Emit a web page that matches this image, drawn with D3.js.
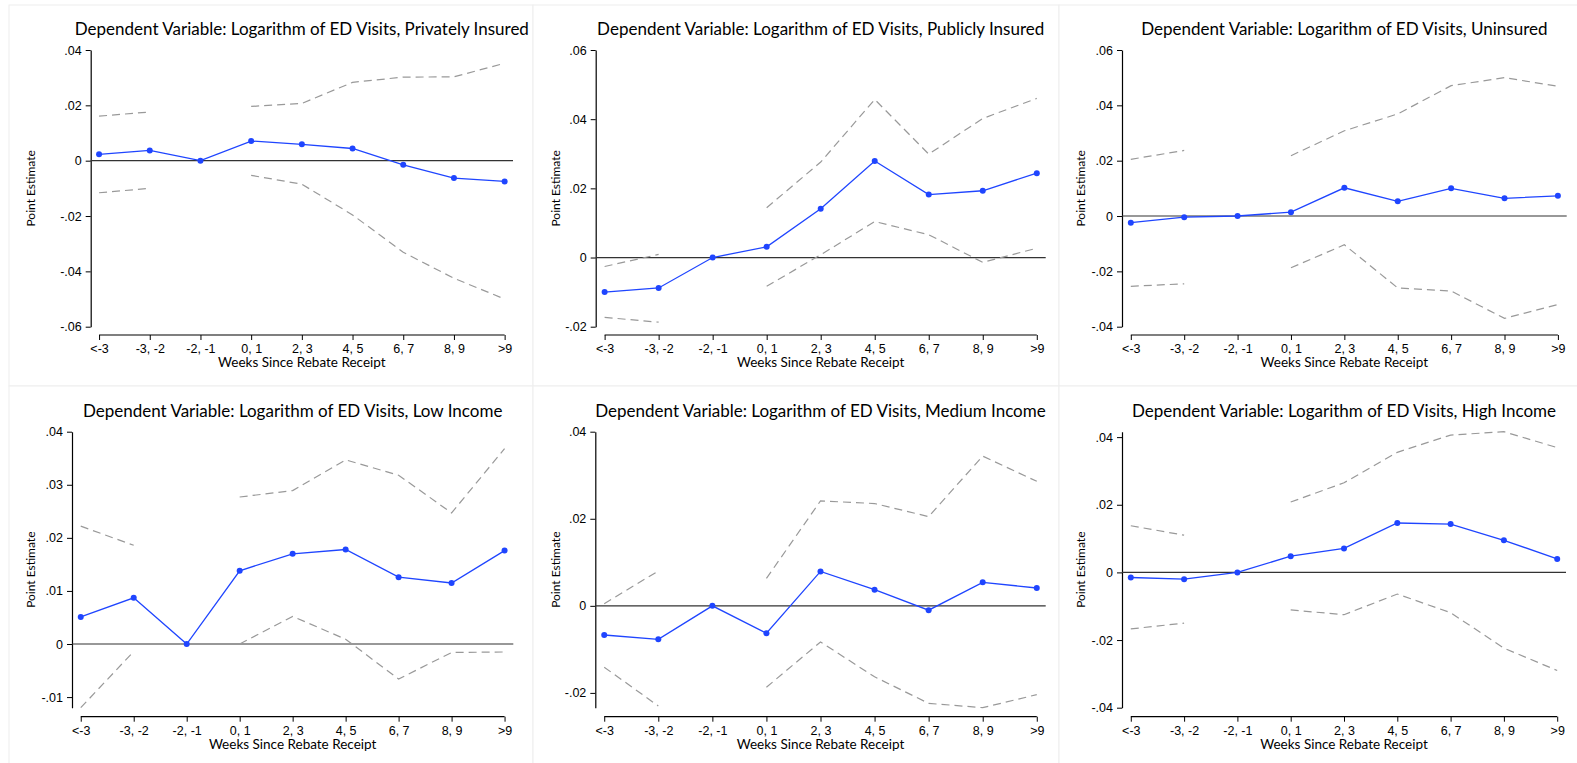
<!DOCTYPE html>
<html>
<head>
<meta charset="utf-8">
<script src="https://cdn.jsdelivr.net/npm/d3@7"></script>
<style>
  body { margin: 0; background: #fff; }
  svg { display: block; font-family: Lato, "Open Sans", sans-serif; }
</style>
</head>
<body>
<div id="chart"></div>
<script>
'use strict';

var categories = ["<-3", "-3, -2", "-2, -1", "0, 1", "2, 3", "4, 5", "6, 7", "8, 9", ">9"];

var titles = [
  "Dependent Variable: Logarithm of ED Visits, Privately Insured",
  "Dependent Variable: Logarithm of ED Visits, Publicly Insured",
  "Dependent Variable: Logarithm of ED Visits, Uninsured",
  "Dependent Variable: Logarithm of ED Visits, Low Income",
  "Dependent Variable: Logarithm of ED Visits, Medium Income",
  "Dependent Variable: Logarithm of ED Visits, High Income"
];

// point estimates, one array per panel
var estPrivate = [0.0023, 0.0037, 0, 0.0071, 0.0059, 0.0044, -0.0015, -0.0063, -0.0075];
var estPublic = [-0.0100, -0.0088, 0, 0.0031, 0.0141, 0.0279, 0.0182, 0.0193, 0.0244];
var estUninsured = [-0.0024, -0.0004, 0, 0.0014, 0.0102, 0.0053, 0.0100, 0.0064, 0.0073];
var estLow = [0.0051, 0.0087, 0, 0.0138, 0.0170, 0.0178, 0.0126, 0.0115, 0.0176];
var estMedium = [-0.0067, -0.0077, 0, -0.0063, 0.0079, 0.0037, -0.0010, 0.0054, 0.0041];
var estHigh = [-0.0015, -0.0020, 0, 0.0048, 0.0071, 0.0146, 0.0143, 0.0095, 0.0040];

// confidence bands (null = omitted reference period)
var upPrivate = [0.0161, 0.0176, null, 0.0196, 0.0207, 0.0283, 0.0302, 0.0303, 0.0352];
var loPrivate = [-0.0116, -0.0100, null, -0.0053, -0.0085, -0.0196, -0.0331, -0.0425, -0.0500];
var upPublic = [-0.0026, 0.0009, null, 0.0144, 0.0276, 0.0457, 0.0299, 0.0402, 0.0460];
var loPublic = [-0.0173, -0.0187, null, -0.0083, 0.0008, 0.0104, 0.0066, -0.0014, 0.0027];
var upUninsured = [0.0205, 0.0237, null, 0.0218, 0.0308, 0.0369, 0.0471, 0.0500, 0.0469];
var loUninsured = [-0.0254, -0.0245, null, -0.0187, -0.0104, -0.0260, -0.0271, -0.0370, -0.0320];
var upLow = [0.0222, 0.0186, null, 0.0277, 0.0289, 0.0347, 0.0318, 0.0247, 0.0368];
var loLow = [-0.0120, -0.0014, null, 0.0000, 0.0052, 0.0009, -0.0066, -0.0016, -0.0015];
var upMedium = [0.0005, 0.0080, null, 0.0063, 0.0241, 0.0235, 0.0205, 0.0344, 0.0286];
var loMedium = [-0.0141, -0.0230, null, -0.0187, -0.0083, -0.0163, -0.0224, -0.0234, -0.0204];
var upHigh = [0.0138, 0.0110, null, 0.0208, 0.0265, 0.0355, 0.0406, 0.0416, 0.0369];
var loHigh = [-0.0167, -0.0150, null, -0.0111, -0.0125, -0.0064, -0.0119, -0.0224, -0.0290];

// y tick values per panel
var ticksPrivate = [-0.06, -0.04, -0.02, 0, 0.02, 0.04];
var ticksPublic = [-0.02, 0, 0.02, 0.04, 0.06];
var ticksUninsured = [-0.04, -0.02, 0, 0.02, 0.04, 0.06];
var ticksLow = [-0.01, 0, 0.01, 0.02, 0.03, 0.04];
var ticksMedium = [-0.02, 0, 0.02, 0.04];
var ticksHigh = [-0.04, -0.02, 0, 0.02, 0.04];

var panels = [
  {title: titles[0], est: estPrivate, up: upPrivate, lo: loPrivate, ticks: ticksPrivate},
  {title: titles[1], est: estPublic, up: upPublic, lo: loPublic, ticks: ticksPublic},
  {title: titles[2], est: estUninsured, up: upUninsured, lo: loUninsured, ticks: ticksUninsured},
  {title: titles[3], est: estLow, up: upLow, lo: loLow, ticks: ticksLow},
  {title: titles[4], est: estMedium, up: upMedium, lo: loMedium, ticks: ticksMedium},
  {title: titles[5], est: estHigh, up: upHigh, lo: loHigh, ticks: ticksHigh}
];

var width = 1577, height = 763;

// plot regions (left, right of plot area; row tops/bottoms)
var frames = [
  {x0: 90.7, x1: 513, box: [9, 5, 524, 381], ytitle: 31},
  {x0: 595.7, x1: 1045.7, box: [533, 5, 526, 381], ytitle: 556},
  {x0: 1122, x1: 1566.7, box: [1059, 5, 520, 381], ytitle: 1081},
  {x0: 72, x1: 513.3, box: [9, 386, 524, 380], ytitle: 31},
  {x0: 595.3, x1: 1045.7, box: [533, 386, 526, 380], ytitle: 556},
  {x0: 1122, x1: 1566, box: [1059, 386, 520, 380], ytitle: 1081}
];
var rows = [
  {top: 50, bottom: 326.7, axisY: 335, titleY: 35},
  {top: 431.7, bottom: 707.7, axisY: 716.7, titleY: 417}
];

// stata style labels: .04, -.02, 0
var fmt = function(v) {
  if (v === 0) return "0";
  var s = d3.format(".2f")(Math.abs(v)).replace(/^0/, "");
  return (v < 0 ? "-" : "") + s;
};

var svg = d3.select("#chart").append("svg")
    .attr("width", width)
    .attr("height", height);

panels.forEach(function(p, i) {
  var f = frames[i], r = rows[Math.floor(i / 3)];

  var g = svg.append("g");

  g.append("rect")
      .attr("x", f.box[0]).attr("y", f.box[1])
      .attr("width", f.box[2]).attr("height", f.box[3])
      .attr("fill", "#fff")
      .attr("stroke", "#eeeeee")
      .attr("stroke-width", 1);

  var allVals = p.est.concat(p.up, p.lo).filter(function(d) { return d !== null; });
  var ymin = Math.min(d3.min(p.ticks), d3.min(allVals)),
      ymax = Math.max(d3.max(p.ticks), d3.max(allVals));

  var x = d3.scalePoint()
      .domain(categories)
      .range([f.x0, f.x1])
      .padding(0.165);

  var y = d3.scaleLinear()
      .domain([ymin, ymax])
      .range([r.bottom, r.top]);

  // y axis
  var yAxis = g.append("g")
      .attr("transform", "translate(" + f.x0 + ",0)")
      .call(d3.axisLeft(y).tickValues(p.ticks).tickFormat(fmt).tickSize(5).tickPadding(4).tickSizeOuter(0));
  yAxis.select(".domain").attr("stroke", "#000").attr("stroke-width", 1.2);
  yAxis.selectAll(".tick line").attr("stroke", "#000");
  yAxis.selectAll("text").attr("font-size", 12.5).attr("fill", "#000").attr("font-family", null);

  // x axis, offset below plot area
  var first = x(categories[0]), last = x(categories[categories.length - 1]);
  var xAxis = g.append("g")
      .attr("transform", "translate(0," + r.axisY + ")")
      .call(d3.axisBottom(x).tickSize(5).tickPadding(4).tickSizeOuter(0));
  xAxis.select(".domain").attr("d", "M" + first + ",0H" + last).attr("stroke", "#000").attr("stroke-width", 1.2);
  xAxis.selectAll(".tick line").attr("stroke", "#000");
  xAxis.selectAll("text").attr("font-size", 12.5).attr("fill", "#000").attr("font-family", null);

  // zero reference line
  g.append("line")
      .attr("x1", f.x0).attr("x2", f.x1)
      .attr("y1", y(0)).attr("y2", y(0))
      .attr("stroke", "#333")
      .attr("stroke-width", 1.2);

  var line = d3.line()
      .defined(function(d) { return d.v !== null; })
      .x(function(d) { return x(d.c); })
      .y(function(d) { return y(d.v); });

  [p.up, p.lo].forEach(function(band) {
    g.append("path")
        .datum(categories.map(function(c, k) { return {c: c, v: band[k]}; }))
        .attr("fill", "none")
        .attr("stroke", "#999")
        .attr("stroke-width", 1.2)
        .attr("stroke-dasharray", "8 5")
        .attr("d", line);
  });

  var pts = categories.map(function(c, k) { return {c: c, v: p.est[k]}; });
  g.append("path")
      .datum(pts)
      .attr("fill", "none")
      .attr("stroke", "#1f45ff")
      .attr("stroke-width", 1.3)
      .attr("d", line);

  g.selectAll("circle.pt")
      .data(pts)
      .join("circle")
      .attr("class", "pt")
      .attr("cx", function(d) { return x(d.c); })
      .attr("cy", function(d) { return y(d.v); })
      .attr("r", 3)
      .attr("fill", "#1f45ff");

  g.append("text")
      .attr("x", (f.x0 + f.x1) / 2)
      .attr("y", r.titleY)
      .attr("text-anchor", "middle")
      .attr("font-size", 17)
      .text(p.title);

  g.append("text")
      .attr("x", (first + last) / 2)
      .attr("y", r.axisY + 32)
      .attr("text-anchor", "middle")
      .attr("font-size", 13.5)
      .text("Weeks Since Rebate Receipt");

  g.append("text")
      .attr("transform", "translate(" + f.ytitle + "," + ((r.top + r.bottom) / 2) + ") rotate(-90)")
      .attr("dy", "0.35em")
      .attr("text-anchor", "middle")
      .attr("font-size", 12)
      .text("Point Estimate");
});
</script>
</body>
</html>
